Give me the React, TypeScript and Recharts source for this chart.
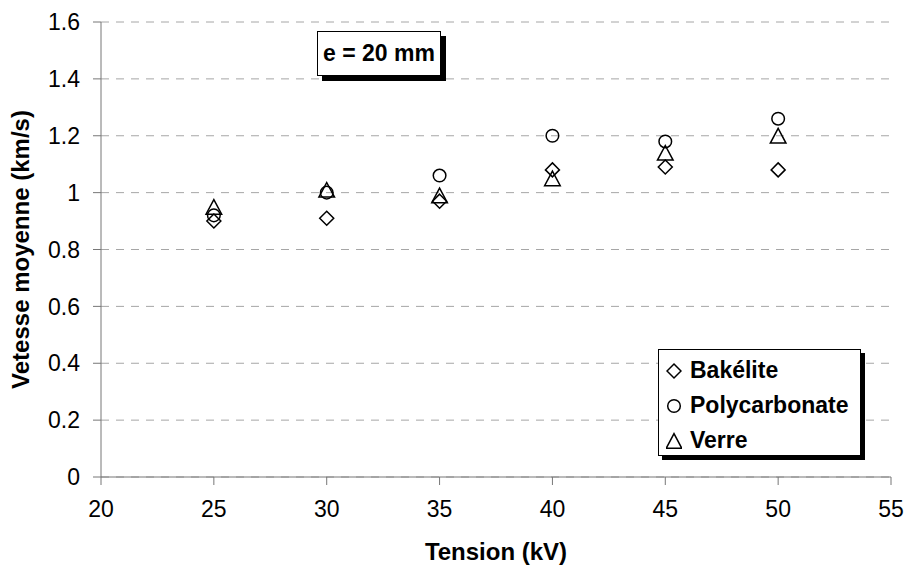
import React from 'react';
import {
  ScatterChart, Scatter, XAxis, YAxis, CartesianGrid, Legend, Label,
} from 'recharts';

// Tension (kV) and mean velocity (km/s) per material
const TENSIONS = [25, 30, 35, 40, 45, 50];
const BAKELITE = [0.9, 0.91, 0.97, 1.08, 1.09, 1.08];
const POLYCARBONATE = [0.92, 1.0, 1.06, 1.2, 1.18, 1.26];
const VERRE = [0.95, 1.01, 0.99, 1.05, 1.14, 1.2];

const X_TICKS = [20, 25, 30, 35, 40, 45, 50, 55];
const Y_TICKS = [0, 0.2, 0.4, 0.6, 0.8, 1, 1.2, 1.4, 1.6];

const FONT = '"Liberation Sans", Arial, Helvetica, sans-serif';
const AXIS_COLOR = '#777';
const GRID_COLOR = '#a6a6a6';

type MarkerKind = 'diamond' | 'circle' | 'triangle';

const SERIES: { name: string; values: number[]; kind: MarkerKind }[] = [
  { name: 'Bakélite', values: BAKELITE, kind: 'diamond' },
  { name: 'Polycarbonate', values: POLYCARBONATE, kind: 'circle' },
  { name: 'Verre', values: VERRE, kind: 'triangle' },
];

function Marker({ kind, cx, cy }: { kind: MarkerKind; cx: number; cy: number }) {
  const common = { fill: 'none', stroke: '#000', strokeWidth: 1.5 };
  if (kind === 'diamond') {
    return (
      <polygon
        {...common}
        points={`${cx},${cy - 7} ${cx + 7},${cy} ${cx},${cy + 7} ${cx - 7},${cy}`}
      />
    );
  }
  if (kind === 'circle') {
    return <circle {...common} cx={cx} cy={cy} r={6.3} />;
  }
  return (
    <polygon
      {...common}
      points={`${cx},${cy - 7.3} ${cx + 7.8},${cy + 7.3} ${cx - 7.8},${cy + 7.3}`}
    />
  );
}

function LegendBox({ payload }: { payload?: { value: string }[] }) {
  return (
    <div
      style={{
        width: 203,
        height: 107,
        boxSizing: 'border-box',
        border: '1px solid #000',
        boxShadow: '4px 4px 0 #000',
        background: '#fff',
        paddingTop: 3,
        paddingLeft: 7,
        fontFamily: FONT,
        fontWeight: 'bold',
        fontSize: 23,
        color: '#000',
      }}
    >
      {(payload ?? []).map(entry => {
        const s = SERIES.find(x => x.name === entry.value);
        return (
          <div key={entry.value} style={{ height: 35, display: 'flex', alignItems: 'center' }}>
            <svg width={16} height={18}>
              <Marker kind={s ? s.kind : 'circle'} cx={8} cy={9} />
            </svg>
            <span style={{ marginLeft: 8 }}>{entry.value}</span>
          </div>
        );
      })}
    </div>
  );
}

export default function App() {
  return (
    <div style={{ position: 'absolute', left: 0, top: 0, width: 907, height: 570, background: '#fff' }}>
      <ScatterChart
        width={907}
        height={570}
        margin={{ top: 22, right: 16, bottom: 0, left: 0 }}
        style={{ fontFamily: FONT }}
      >
        <CartesianGrid vertical={false} stroke={GRID_COLOR} strokeDasharray="8 7" />
        <XAxis
          type="number"
          dataKey="x"
          domain={[20, 55]}
          ticks={X_TICKS}
          height={93}
          tickSize={8}
          tickMargin={16}
          stroke={AXIS_COLOR}
          tick={{ fill: '#000', fontSize: 23 }}
          tickLine={{ stroke: AXIS_COLOR }}
        >
          <Label
            value="Tension (kV)"
            position="insideBottom"
            offset={10}
            style={{ fontSize: 24, fontWeight: 'bold', fill: '#000' }}
          />
        </XAxis>
        <YAxis
          type="number"
          dataKey="y"
          domain={[0, 1.6]}
          ticks={Y_TICKS}
          width={101}
          tickSize={8}
          tickMargin={13}
          stroke={AXIS_COLOR}
          tick={{ fill: '#000', fontSize: 23 }}
          tickLine={{ stroke: AXIS_COLOR }}
        >
          <Label
            value="Vetesse moyenne (km/s)"
            angle={-90}
            position="insideLeft"
            offset={20}
            style={{ fontSize: 24, fontWeight: 'bold', fill: '#000', textAnchor: 'middle' }}
          />
        </YAxis>
        <Legend
          layout="vertical"
          align="center"
          verticalAlign="middle"
          wrapperStyle={{ left: 658, top: 349, width: 'auto' }}
          content={(props: any) => <LegendBox payload={props.payload} />}
        />
        {SERIES.map(s => (
          <Scatter
            key={s.name}
            name={s.name}
            data={TENSIONS.map((x, i) => ({ x, y: s.values[i] }))}
            isAnimationActive={false}
            shape={(p: any) => <Marker kind={s.kind} cx={p.cx} cy={p.cy} />}
          />
        ))}
      </ScatterChart>
      <div
        style={{
          position: 'absolute',
          left: 317,
          top: 31,
          width: 124,
          height: 45,
          boxSizing: 'border-box',
          border: '1px solid #000',
          boxShadow: '5px 5px 0 #000',
          background: '#fff',
          display: 'flex',
          alignItems: 'center',
          justifyContent: 'center',
          fontFamily: FONT,
          fontWeight: 'bold',
          fontSize: 23,
          color: '#000',
        }}
      >
        e = 20 mm
      </div>
    </div>
  );
}
